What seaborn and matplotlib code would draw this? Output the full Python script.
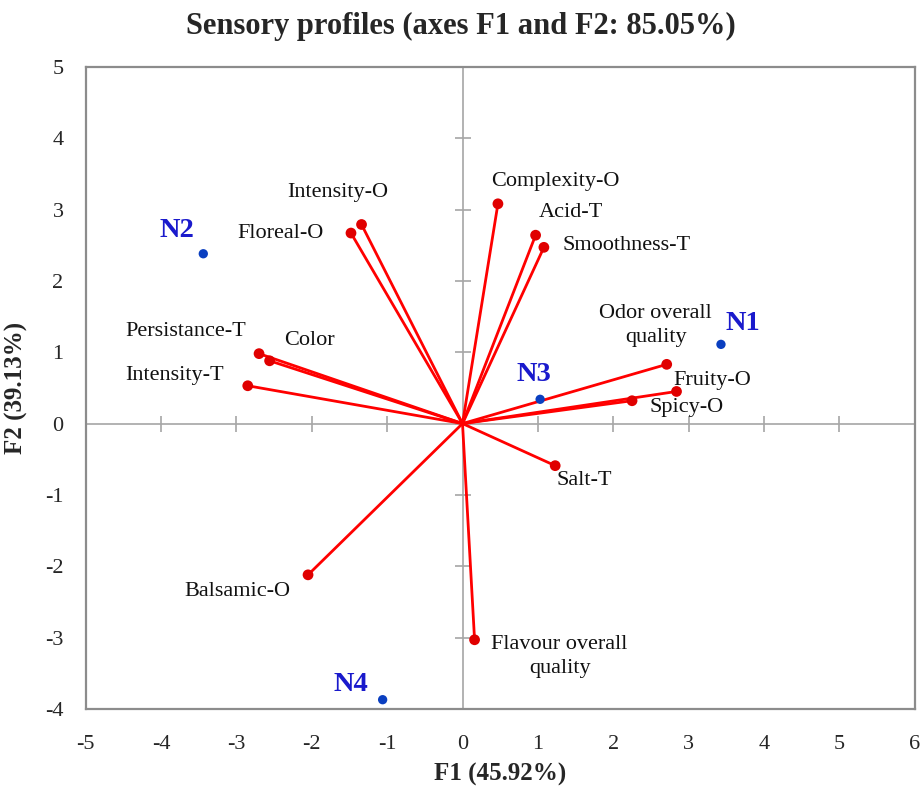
import matplotlib
matplotlib.use("Agg")
import matplotlib.pyplot as plt
import pandas as pd
import seaborn as sns

# variables (red vectors)
var_names = ["Intensity-O", "Floreal-O", "Complexity-O", "Acid-T", "Smoothness-T",
             "Odor overall\nquality", "Fruity-O", "Spicy-O", "Salt-T",
             "Flavour overall\nquality", "Balsamic-O", "Persistance-T", "Color", "Intensity-T"]
var_f1 = [-1.34, -1.48, 0.47, 0.97, 1.08, 2.71, 2.84, 2.25, 1.23, 0.16, -2.05, -2.70, -2.56, -2.85]
var_f2 = [2.79, 2.67, 3.08, 2.64, 2.47, 0.83, 0.45, 0.32, -0.59, -3.03, -2.12, 0.98, 0.88, 0.53]

# observations (blue points)
obs_names = ["N1", "N2", "N3", "N4"]
obs_f1 = [3.43, -3.44, 1.03, -1.06]
obs_f2 = [1.11, 2.38, 0.34, -3.87]

x_ticks = [-5, -4, -3, -2, -1, 0, 1, 2, 3, 4, 5, 6]
y_ticks = [-4, -3, -2, -1, 0, 1, 2, 3, 4, 5]

# label offsets in pixels (style only)
var_off = [(-24, 32), (-70, 0), (57, 22), (35, 23), (83, 2), (-11, 39), (36, 11),
           (55, -7), (29, -15), (85, -17), (-71, -17), (-73, 22), (40, 20), (-73, 10)]
obs_off = [(22, 21), (-26, 23), (-6, 25), (-32, 15)]

sns.set_style("white")
plt.rcParams["font.family"] = ["Liberation Serif", "DejaVu Serif"]
plt.rcParams["axes.unicode_minus"] = False

fig = plt.figure(figsize=(9.22, 7.86), dpi=100)
ax = fig.add_axes([0.093, 0.098, 0.899, 0.817])

ax.axhline(0, color="#a6a6a6", lw=1.2, zorder=1)
ax.axvline(0, color="#a6a6a6", lw=1.2, zorder=1)
ax.plot(x_ticks, [0] * len(x_ticks), ls="none", marker="|", ms=11, mew=1.2, color="#a6a6a6", zorder=1)
ax.plot([0] * len(y_ticks), y_ticks, ls="none", marker="_", ms=11, mew=1.2, color="#a6a6a6", zorder=1)

for x, y in zip(var_f1, var_f2):
    ax.plot([0, x], [0, y], color="#ff0000", lw=2, zorder=2)

df_var = pd.DataFrame({"F1": var_f1, "F2": var_f2})
df_obs = pd.DataFrame({"F1": obs_f1, "F2": obs_f2})
sns.scatterplot(data=df_var, x="F1", y="F2", color="#e00000", s=60, edgecolor="none", ax=ax, zorder=3)
sns.scatterplot(data=df_obs, x="F1", y="F2", color="#0a3fc0", s=45, edgecolor="none", ax=ax, zorder=3)

for name, x, y, off in zip(var_names, var_f1, var_f2, var_off):
    ax.annotate(name, (x, y), xytext=off, textcoords="offset pixels",
                ha="center", va="center", fontsize=16, color="#111111", linespacing=1.35)
for name, x, y, off in zip(obs_names, obs_f1, obs_f2, obs_off):
    ax.annotate(name, (x, y), xytext=off, textcoords="offset pixels",
                ha="center", va="center", fontsize=20.5, fontweight="bold", color="#1a1acc")

ax.set_xlim(-5, 6)
ax.set_ylim(-4, 5)
ax.set_xticks(x_ticks)
ax.set_yticks(y_ticks)
ax.tick_params(axis="x", length=0, labelsize=16, pad=19)
ax.tick_params(axis="y", length=0, labelsize=16, pad=16)
for s in ax.spines.values():
    s.set_color("#8c8c8c")
    s.set_linewidth(1.6)

ax.set_xlabel("F1 (45.92%)", fontsize=18, fontweight="bold", labelpad=6)
ax.set_ylabel("F2 (39.13%)", fontsize=18, fontweight="bold", labelpad=12)
fig.suptitle("Sensory profiles (axes F1 and F2: 85.05%)", fontsize=22, fontweight="bold", y=0.985)

fig.savefig("out.png", dpi=100)
